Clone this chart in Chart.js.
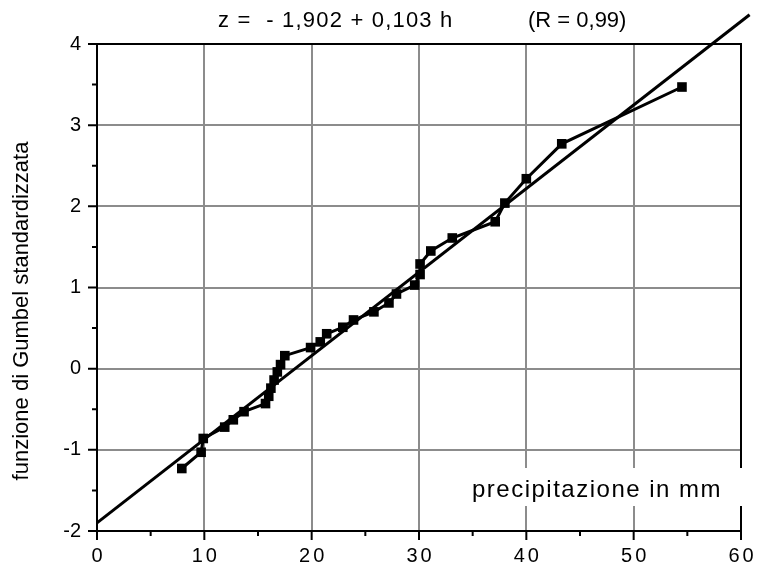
<!DOCTYPE html>
<html>
<head>
<meta charset="utf-8">
<script src="https://cdn.jsdelivr.net/npm/chart.js@4.4.0/dist/chart.umd.min.js"></script>
<style>
    html, body { margin: 0; padding: 0; background: #fff; }
    #wrap { width: 759px; height: 578px; position: relative; }
</style>
</head>
<body>
<div id="wrap"><canvas id="gumbelChart"></canvas></div>
<script>
// Observed annual maxima (mm) and their standardized Gumbel variate
const precipMm = [7.9, 9.7, 9.9, 11.9, 12.7, 13.7, 15.7, 16.0, 16.2, 16.5, 16.8, 17.1, 17.5, 19.9, 20.8,
    21.4, 22.9, 23.9, 25.8, 27.2, 27.9, 29.6, 30.1, 30.1, 31.1, 33.1, 37.1, 38.0, 40.0, 43.3, 54.5];
const gumbelZ = [-1.23, -1.03, -0.86, -0.72, -0.63, -0.53, -0.43, -0.34, -0.24, -0.14, -0.04, 0.05, 0.16, 0.26, 0.33,
    0.43, 0.51, 0.60, 0.70, 0.81, 0.92, 1.03, 1.16, 1.29, 1.45, 1.61, 1.81, 2.04, 2.34, 2.77, 3.47];

// Regression line end points (z = -1,902 + 0,103 h)
const fitMm = [0, 60.8];
const fitZ = [-1.90, 4.36];

const xTicks = [0, 10, 20, 30, 40, 50, 60];
const yTicks = [-2, -1, 0, 1, 2, 3, 4];

const titleEquation = 'z =  - 1,902 + 0,103 h';
const titleR = '(R = 0,99)';
const xAxisLabel = 'precipitazione in mm';
const yAxisLabel = 'funzione di Gumbel standardizzata';

const FONT = '"Liberation Sans", Arial, Helvetica, sans-serif';

function isMajor(value, list) {
    return list.some(v => Math.abs(v - value) < 1e-6);
}

// Frame, tick marks, x tick labels, title and axis captions
const decorations = {
    id: 'decorations',
    afterDraw(chart) {
        const { ctx, chartArea: a, scales: { x, y } } = chart;
        ctx.save();
        ctx.strokeStyle = '#000';
        ctx.lineWidth = 2;
        ctx.strokeRect(a.left, a.top, a.right - a.left, a.bottom - a.top);

        ctx.beginPath();
        x.ticks.forEach(t => {
            const px = x.getPixelForValue(t.value);
            const len = isMajor(t.value, xTicks) ? 9 : 5;
            ctx.moveTo(px, a.bottom);
            ctx.lineTo(px, a.bottom + len);
        });
        y.ticks.forEach(t => {
            const py = y.getPixelForValue(t.value);
            const len = isMajor(t.value, yTicks) ? 9 : 5;
            ctx.moveTo(a.left, py);
            ctx.lineTo(a.left - len, py);
        });
        ctx.stroke();

        // x tick labels (spaced digits)
        ctx.fillStyle = '#000';
        ctx.font = '20px ' + FONT;
        ctx.letterSpacing = '3px';
        ctx.textAlign = 'center';
        ctx.textBaseline = 'middle';
        xTicks.forEach(v => {
            ctx.fillText(String(v), x.getPixelForValue(v) + 1.5, a.bottom + 25);
        });

        // title
        ctx.font = '22px ' + FONT;
        ctx.textAlign = 'left';
        ctx.letterSpacing = '1.2px';
        ctx.fillText(titleEquation, 218, 21);
        ctx.letterSpacing = '0px';
        ctx.fillText(titleR, 528, 21);

        // x caption inside the plot, on a white box
        ctx.fillStyle = '#fff';
        ctx.fillRect(463, 468, 280, 38);
        ctx.fillStyle = '#000';
        ctx.font = '24px ' + FONT;
        ctx.letterSpacing = '1.5px';
        ctx.textBaseline = 'alphabetic';
        ctx.fillText(xAxisLabel, 472, 497);

        // y caption
        ctx.letterSpacing = '0px';
        ctx.font = '22px ' + FONT;
        ctx.translate(22, 311);
        ctx.rotate(-Math.PI / 2);
        ctx.textAlign = 'center';
        ctx.textBaseline = 'middle';
        ctx.fillText(yAxisLabel, 0, 0);
        ctx.restore();
    }
};

const ctx = document.getElementById('gumbelChart').getContext('2d');
window.gumbelChart = new Chart(ctx, {
    type: 'scatter',
    data: {
        datasets: [{
            label: 'regressione',
            data: fitMm.map((h, i) => ({ x: h, y: fitZ[i] })),
            showLine: true,
            borderColor: '#000',
            borderWidth: 3,
            pointRadius: 0,
            clip: false
        }, {
            label: 'osservati',
            data: precipMm.map((h, i) => ({ x: h, y: gumbelZ[i] })),
            showLine: true,
            borderColor: '#000',
            backgroundColor: '#000',
            borderWidth: 3,
            pointStyle: 'rect',
            pointRadius: 6.8,
            pointBorderWidth: 0
        }]
    },
    options: {
        responsive: true,
        maintainAspectRatio: false,
        animation: false,
        layout: { padding: { top: 44, right: 18, left: 0, bottom: 0 } },
        plugins: {
            legend: { display: false },
            tooltip: { enabled: false }
        },
        scales: {
            x: {
                type: 'linear',
                min: 0,
                max: 60,
                afterFit: s => { s.height = 47; s.paddingLeft = 0; s.paddingRight = 0; },
                border: { display: true, color: '#000', width: 2 },
                grid: {
                    drawTicks: false,
                    lineWidth: 2,
                    color: c => (isMajor(c.tick.value, xTicks) ? '#8c8c8c' : 'rgba(0,0,0,0)')
                },
                ticks: {
                    stepSize: 5,
                    autoSkip: false,
                    maxRotation: 0,
                    display: false
                }
            },
            y: {
                type: 'linear',
                min: -2,
                max: 4,
                afterFit: s => { s.width = 97; s.paddingTop = 0; s.paddingBottom = 0; },
                border: { display: true, color: '#000', width: 2 },
                grid: {
                    drawTicks: false,
                    lineWidth: 2,
                    color: c => (isMajor(c.tick.value, yTicks) ? '#8c8c8c' : 'rgba(0,0,0,0)')
                },
                ticks: {
                    stepSize: 0.5,
                    autoSkip: false,
                    padding: 16,
                    color: '#000',
                    font: { family: FONT, size: 20 },
                    callback: v => (isMajor(v, yTicks) ? String(v) : '')
                }
            }
        }
    },
    plugins: [decorations]
});
</script>
</body>
</html>
